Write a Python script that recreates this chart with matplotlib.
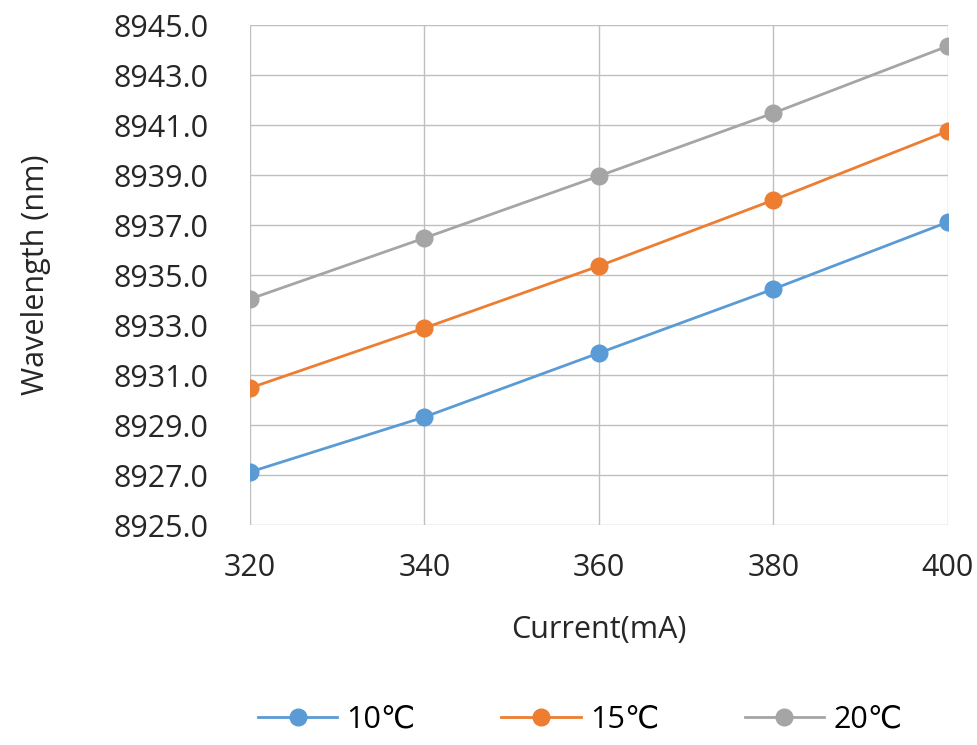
import matplotlib.pyplot as plt
import numpy as np

plt.rcParams['font.family'] = ['Open Sans', 'DejaVu Sans']

current = [320, 340, 360, 380, 400]
wl_10 = [8927.12, 8929.32, 8931.88, 8934.44, 8937.12]
wl_15 = [8930.48, 8932.88, 8935.36, 8938.00, 8940.76]
wl_20 = [8934.04, 8936.48, 8938.96, 8941.48, 8944.16]
labels = ['10℃', '15℃', '20℃']
colors = ['#5B9BD5', '#ED7D31', '#A5A5A5']

fig = plt.figure(figsize=(9.78, 7.45), dpi=100)
ax = fig.add_axes([0.2556, 0.2953, 0.7137, 0.6711])

for ys, lab, col in zip([wl_10, wl_15, wl_20], labels, colors):
    ax.plot(current, ys, color=col, lw=2.0, marker='o', markersize=12, label=lab)

ax.set_xlim(320, 400)
ax.set_ylim(8925, 8945)
ax.set_xticks(current)
ax.set_yticks(np.arange(8925, 8946, 2))
ax.set_yticklabels([f'{v:.1f}' for v in np.arange(8925, 8946, 2)])
ax.grid(True, color='#BFBFBF', lw=1.0)
for s in ax.spines.values():
    s.set_visible(False)
ax.tick_params(length=0, labelsize=22, colors='#262626')
ax.tick_params(axis='y', pad=30)
ax.tick_params(axis='x', pad=20)
ax.set_xlabel('Current(mA)', fontsize=22, color='#262626')
ax.set_ylabel('Wavelength (nm)', fontsize=22, color='#262626')
ax.xaxis.set_label_coords(0.5, -0.18)
ax.yaxis.set_label_coords(-0.285, 0.5)
ax.set_axisbelow(True)

fig.legend(loc='center', bbox_to_anchor=(0.593, 0.034), ncol=3, frameon=False,
           fontsize=22, handlelength=2.6, columnspacing=2.8, handletextpad=0.3)

fig.savefig('out.png', dpi=100)
